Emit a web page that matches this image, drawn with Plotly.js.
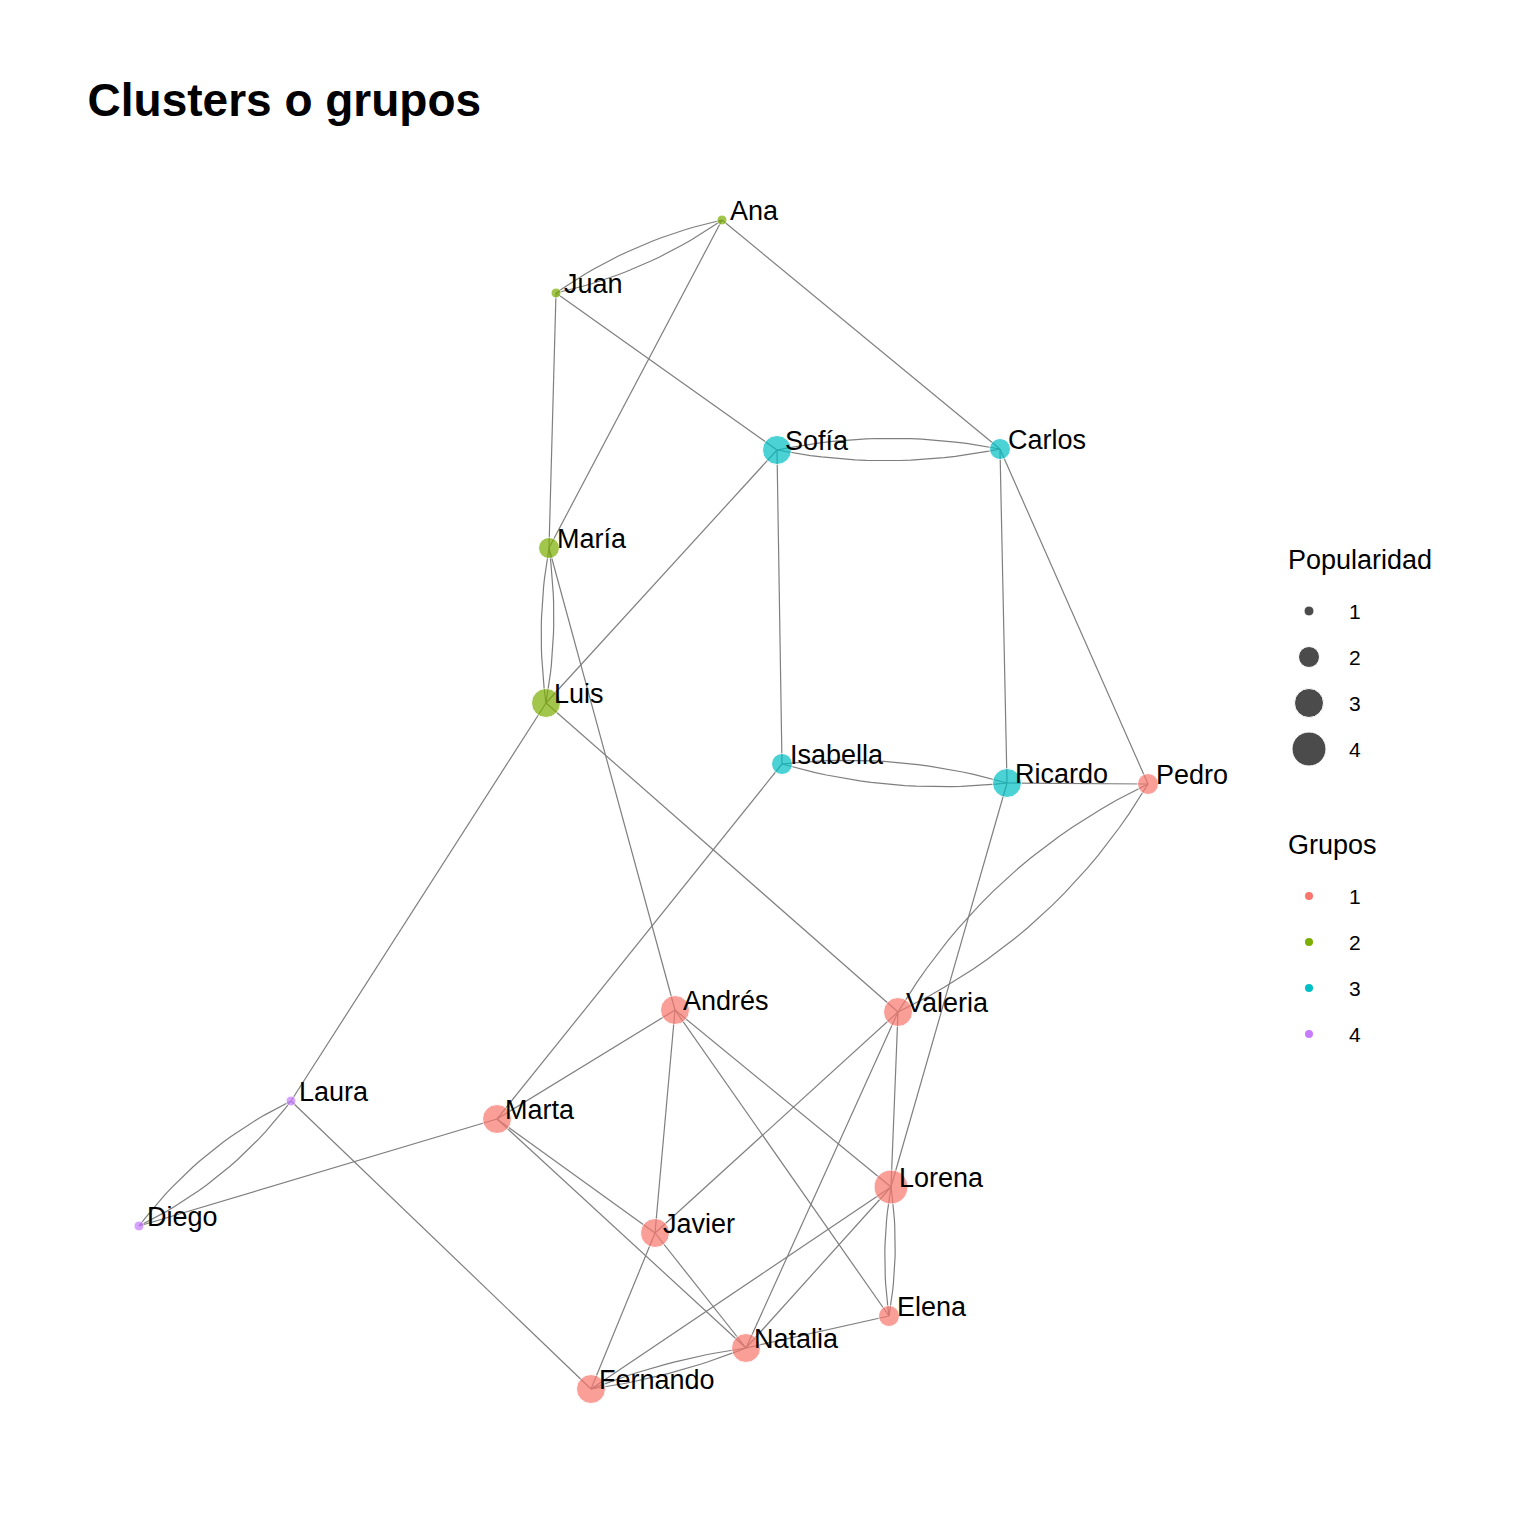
<!DOCTYPE html>
<html><head><meta charset="utf-8">
<script src="https://cdn.plot.ly/plotly-3.0.1.min.js"></script>
<style>body{margin:0}#c{width:1536px;height:1536px}</style></head>
<body><div id="c"></div>
<script>
const names=["Ana","Juan","Sofía","Carlos","María","Luis","Isabella","Ricardo","Pedro","Andrés","Valeria","Laura","Marta","Lorena","Diego","Javier","Elena","Natalia","Fernando"];
const posX=[7.22,5.56,7.77,10.00,5.49,5.46,7.82,10.07,11.48,6.75,8.98,2.91,4.97,8.91,1.39,6.55,8.89,7.46,5.91];
const posY=[2.20,2.93,4.50,4.49,5.48,7.03,7.64,7.83,7.84,10.10,10.12,11.01,11.19,11.87,12.26,12.33,13.16,13.48,13.89];
const grupo=[2,2,3,3,2,2,3,3,1,1,1,4,1,1,4,1,1,1,1];
const popularidad=[1,1,3,2,2,3,2,3,2,3,3,1,3,4,1,3,2,3,3];
// edges: [from,to,curvature] curved pairs drawn twice
const edgesFrom=["Ana","Juan","Ana","Ana","Juan","Juan","Sofía","Carlos","Sofía","Sofía","Carlos","Carlos","María","Luis","María","Luis","Luis","Isabella","Ricardo","Isabella","Ricardo","Ricardo","Pedro","Valeria","Andrés","Andrés","Andrés","Andrés","Valeria","Valeria","Valeria","Laura","Diego","Laura","Marta","Marta","Marta","Lorena","Elena","Lorena","Lorena","Javier","Javier","Natalia","Natalia","Fernando"];
const edgesTo=["Juan","Ana","María","Carlos","María","Sofía","Carlos","Sofía","Luis","Isabella","Ricardo","Pedro","Luis","María","Andrés","Laura","Valeria","Ricardo","Isabella","Marta","Pedro","Lorena","Valeria","Pedro","Marta","Javier","Lorena","Elena","Javier","Lorena","Natalia","Diego","Laura","Fernando","Diego","Javier","Natalia","Elena","Lorena","Natalia","Fernando","Fernando","Natalia","Elena","Fernando","Natalia"];
const edgesCurve=[0.1,0.1,0,0,0,0,0.1,0.1,0,0,0,0,0.08,0.08,0,0,0,0.1,0.1,0,0,0,0.15,0.15,0,0,0,0,0,0,0,0.12,0.12,0,0,0,0,0.08,0.08,0,0,0,0,0,0.06,0.06];
const colors={1:"#F8766D",2:"#7CAE00",3:"#00BFC4",4:"#C77CFF"};
const sizeOf=p=>[0,10,21,29,34][p];
const idx=n=>names.indexOf(n);
const ex=[],ey=[];
for(let k=0;k<edgesFrom.length;k++){
  const a=idx(edgesFrom[k]),b=idx(edgesTo[k]);
  const x0=posX[a],y0=posY[a],x1=posX[b],y1=posY[b],c=edgesCurve[k];
  const dx=x1-x0,dy=y1-y0;
  const cx=(x0+x1)/2-dy*c,cy=(y0+y1)/2+dx*c;
  for(let t=0;t<=20;t++){const s=t/20;
    ex.push((1-s)*(1-s)*x0+2*s*(1-s)*cx+s*s*x1);
    ey.push((1-s)*(1-s)*y0+2*s*(1-s)*cy+s*s*y1);}
  ex.push(null);ey.push(null);
}
const traces=[
 {x:ex,y:ey,mode:"lines",line:{color:"#7f7f7f",width:1.2},hoverinfo:"skip"},
 {x:posX,y:posY,mode:"markers",marker:{color:grupo.map(g=>colors[g]),size:popularidad.map(sizeOf)}},
 {x:posX.map(v=>v+0.08),y:posY.map(v=>v-0.07),mode:"text",text:names,textposition:"middle right",textfont:{family:"Liberation Sans, Arial",size:27,color:"#000"}}
];
// legend
const popLevels=[1,2,3,4], grpLevels=[1,2,3,4];
traces.push({x:popLevels.map(()=>13.09),y:popLevels.map((p,i)=>6.11+i*0.46),mode:"markers",marker:{color:"#000",size:popLevels.map(sizeOf)}});
traces.push({x:grpLevels.map(()=>13.09),y:grpLevels.map((p,i)=>8.96+i*0.46),mode:"markers",marker:{color:grpLevels.map(g=>colors[g]),size:8}});
const ann=[];
ann.push({x:12.86,y:5.6,text:"Popularidad",xanchor:"left",showarrow:false,font:{size:27}});
ann.push({x:12.86,y:8.45,text:"Grupos",xanchor:"left",showarrow:false,font:{size:27}});
popLevels.forEach((p,i)=>ann.push({x:13.47,y:6.11+i*0.46,text:String(p),xanchor:"left",showarrow:false,font:{size:21}}));
grpLevels.forEach((p,i)=>ann.push({x:13.47,y:8.96+i*0.46,text:String(p),xanchor:"left",showarrow:false,font:{size:21}}));
Plotly.newPlot("c",traces,{
 width:1536,height:1536,showlegend:false,margin:{l:0,r:0,t:0,b:0},
 paper_bgcolor:"#fff",plot_bgcolor:"#fff",
 font:{family:"Liberation Sans, Arial",color:"#000"},
 title:{text:"<b>Clusters o grupos</b>",x:0.057,xanchor:"left",y:0.935,yanchor:"middle",font:{size:46}},
 xaxis:{range:[0,15.36],visible:false},
 yaxis:{range:[15.36,0],visible:false},
 annotations:ann
},{staticPlot:true});
</script></body></html>
